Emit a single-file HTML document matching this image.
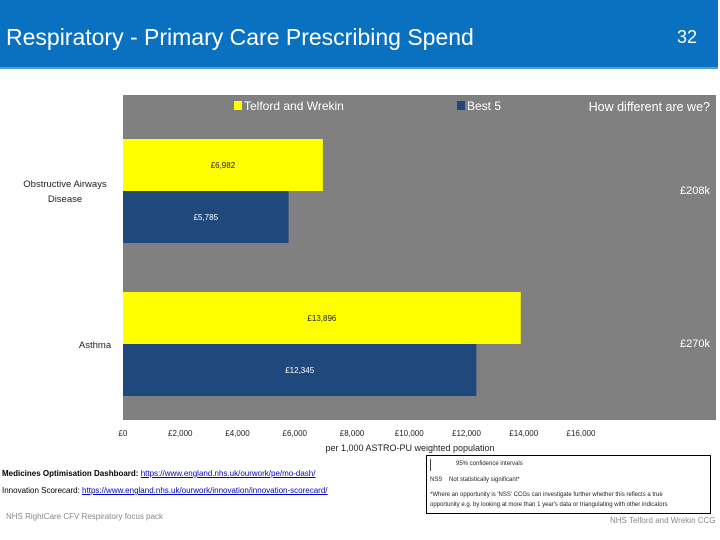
<!DOCTYPE html>
<html><head><meta charset="utf-8"><style>
body{margin:0;width:720px;height:540px;background:#fff;position:relative;overflow:hidden;font-family:"Liberation Sans",sans-serif}
.a{position:absolute}
</style></head><body>
<div class="a" style="left:0;top:0;width:718px;height:67px;background:#0a70c0;border-bottom:2px solid #5a9bd5"></div>
<div class="a" style="left:6px;top:24px;color:#fff;font-size:23px">Respiratory - Primary Care Prescribing Spend</div>
<div class="a" style="left:677px;top:27px;color:#fff;font-size:18px">32</div>
<svg class="a" style="left:0;top:0" width="720" height="540" id="chart">
<rect x="123" y="95" width="593" height="325" fill="#808080"/>
<rect x="234" y="101" width="8" height="9" fill="#ffff00"/>
<text x="244" y="110" font-size="12" fill="#fff">Telford and Wrekin</text>
<rect x="457" y="101" width="8" height="9" fill="#1f497d"/>
<text x="467" y="110" font-size="12" fill="#fff">Best 5</text>
<text x="710" y="111" font-size="12.5" fill="#fff" text-anchor="end">How different are we?</text>
<text x="710" y="194" font-size="11" fill="#fff" text-anchor="end">£208k</text>
<text x="710" y="347" font-size="11" fill="#fff" text-anchor="end">£270k</text>
<text x="65" y="187" font-size="9.5" fill="#222" text-anchor="middle">Obstructive Airways</text>
<text x="65" y="202" font-size="9.5" fill="#222" text-anchor="middle">Disease</text>
<text x="95" y="348" font-size="9.5" fill="#222" text-anchor="middle">Asthma</text>
<text x="410" y="451" font-size="9" fill="#222" text-anchor="middle">per 1,000 ASTRO-PU weighted population</text>
<g id="bars"></g><g id="ticks"></g>
</svg>
<div class="a" style="left:2px;top:469px;font-size:8px;color:#000"><b>Medicines Optimisation Dashboard:</b> <u style="color:#00c">https://www.england.nhs.uk/ourwork/pe/mo-dash/</u></div>
<div class="a" style="left:2px;top:486px;font-size:8px;color:#000">Innovation Scorecard: <u style="color:#00c">https://www.england.nhs.uk/ourwork/innovation/innovation-scorecard/</u></div>
<div class="a" style="left:6px;top:512px;font-size:8px;color:#888">NHS RightCare CFV Respiratory focus pack</div>
<div class="a" style="left:610px;top:516px;font-size:8px;color:#888">NHS Telford and Wrekin CCG</div>
<div class="a" style="left:426px;top:455px;width:283px;height:57px;border:1px solid #000;font-size:6px;color:#222">
<div style="position:absolute;left:3px;top:3px;width:1px;height:12px;background:#444"></div>
<div style="position:absolute;left:29px;top:5px">95% confidence intervals</div>
<div style="position:absolute;left:3px;top:21px">NSS &nbsp;&nbsp; Not statistically significant*</div>
<div style="position:absolute;left:3px;top:36px">*Where an opportunity is 'NSS' CCGs can investigate further whether this reflects a true</div>
<div style="position:absolute;left:3px;top:46px">opportunity e.g. by looking at more than 1 year's data or triangulating with other indicators</div>
</div>
<script>
const categories=["Obstructive Airways Disease","Asthma"];
const telford=[6982,13896];
const best5=[5785,12345];
const ticks=[0,2000,4000,6000,8000,10000,12000,14000,16000];
const NS="http://www.w3.org/2000/svg";
const x=v=>123+v*(458/16000);
const bandTop=[139,292];
const fmt=v=>"£"+v.toLocaleString("en-GB");
const bars=document.getElementById("bars");
function mk(t,a){const e=document.createElementNS(NS,t);for(const k in a)e.setAttribute(k,a[k]);return e;}
categories.forEach((c,i)=>{
 [[telford,"#ffff00","#222","telford"],[best5,"#1f497d","#fff","best5"]].forEach((s,j)=>{
  const y=bandTop[i]+j*52;
  const r=mk("rect",{x:x(0),y:y,width:x(s[0][i])-x(0),height:52,fill:s[1]});
  
  
  bars.appendChild(r);
  const t=mk("text",{x:(x(0)+x(s[0][i]))/2,y:y+29,"font-size":"8","text-anchor":"middle",fill:s[2]});
  t.textContent=fmt(s[0][i]);
  
  
  bars.appendChild(t);
 });
});
const tg=document.getElementById("ticks");
ticks.forEach(v=>{
 const t=mk("text",{x:x(v),y:436,"font-size":"8","text-anchor":"middle",fill:"#222"});
 t.textContent=fmt(v);
 
 
 tg.appendChild(t);
});
</script>
</body></html>
